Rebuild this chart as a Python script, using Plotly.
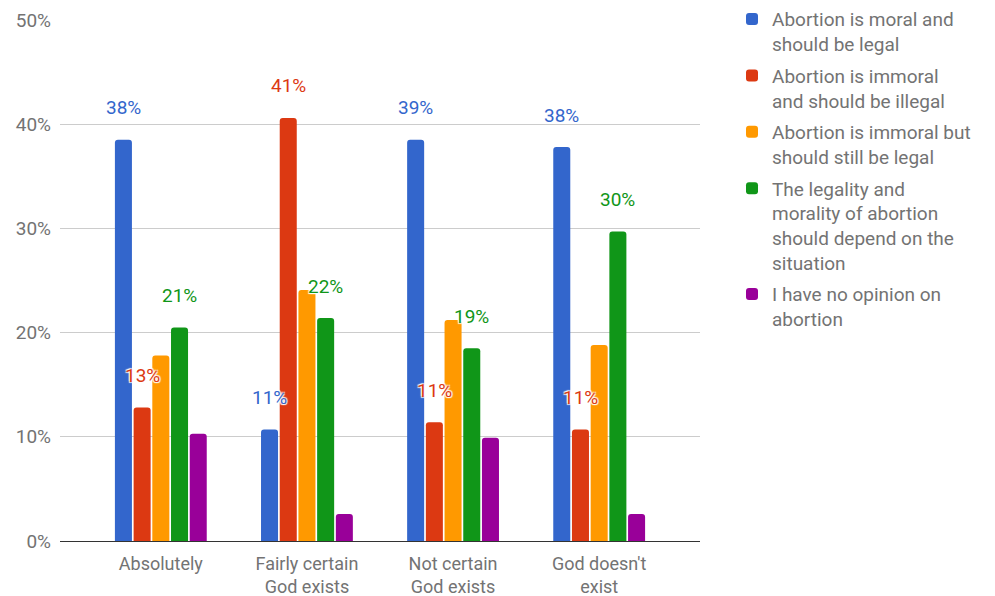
import plotly.graph_objects as go

categories = ["Absolutely", "Fairly certain<br>God exists", "Not certain<br>God exists", "God doesn't<br>exist"]

series_names = [
    "Abortion is moral and<br>should be legal",
    "Abortion is immoral<br>and should be illegal",
    "Abortion is immoral but<br>should still be legal",
    "The legality and<br>morality of abortion<br>should depend on the<br>situation",
    "I have no opinion on<br>abortion",
]

moral_legal = [38.5, 10.7, 38.5, 37.8]
immoral_illegal = [12.8, 40.6, 11.4, 10.7]
immoral_legal = [17.8, 24.1, 21.2, 18.8]
depends = [20.5, 21.4, 18.5, 29.7]
no_opinion = [10.3, 2.6, 9.9, 2.6]

# value labels shown above selected series
moral_legal_labels = ["38%", "11%", "39%", "38%"]
immoral_illegal_labels = ["13%", "41%", "11%", "11%"]
depends_labels = ["21%", "22%", "19%", "30%"]

colors = ["#3366cc", "#dc3912", "#ff9900", "#109618", "#990099"]

values = [moral_legal, immoral_illegal, immoral_legal, depends, no_opinion]
labels = [moral_legal_labels, immoral_illegal_labels, None, depends_labels, None]

BARGAP = 0.36
FONT = "Roboto, Arial, sans-serif"
GRAY = "#737373"

fig = go.Figure()
for k, (name, vals, col) in enumerate(zip(series_names, values, colors)):
    fig.add_trace(go.Bar(
        x=categories, y=vals, name=name, legendgroup=f"g{k}",
        marker=dict(color=col, line=dict(width=0)),
        hoverinfo="skip",
    ))

# value labels floating above the bars, with a white halo
halo = "1px 1px 1px white, -1px -1px 1px white, 1px -1px 1px white, -1px 1px 1px white"
n = len(values)
slot = (1 - BARGAP) / n
for i, (vals, labs, col) in enumerate(zip(values, labels, colors)):
    if labs is None:
        continue
    for j, (v, lab) in enumerate(zip(vals, labs)):
        fig.add_annotation(
            x=j + (i - (n - 1) / 2) * slot, y=v, xref="x", yref="y",
            text=lab, showarrow=False, yanchor="middle", yshift=32,
            font=dict(family=FONT, size=19, color=col, shadow=halo),
        )

fig.update_layout(
    width=995, height=596,
    margin=dict(l=60, r=295, t=20, b=55, autoexpand=False),
    paper_bgcolor="white", plot_bgcolor="white",
    barmode="group", bargap=BARGAP, bargroupgap=0.09,
    barcornerradius=3,
    font=dict(family=FONT, size=18, color=GRAY),
    showlegend=True,
    legend=dict(
        x=1.05, y=1.038, xanchor="left", yanchor="top",
        font=dict(family=FONT, size=19, color=GRAY),
        tracegroupgap=4, itemwidth=30, maxheight=1.0,
        traceorder="grouped", valign="top",
    ),
    xaxis=dict(
        range=[-0.69, 3.69], showgrid=False, showline=False, zeroline=False,
        ticks="", ticklabelstandoff=10, automargin=False,
        tickfont=dict(family=FONT, size=18, color=GRAY),
    ),
    yaxis=dict(
        range=[0, 50], tickvals=[0, 10, 20, 30, 40, 50],
        ticktext=["0%", "10%", "20%", "30%", "40%", "50%"],
        showgrid=True, gridcolor="#cccccc", gridwidth=1,
        zeroline=True, zerolinecolor="#333333", zerolinewidth=1,
        showline=False, ticks="", ticklabelstandoff=8, automargin=False,
        tickfont=dict(family=FONT, size=19, color=GRAY),
    ),
)

fig.write_html("out.html")
